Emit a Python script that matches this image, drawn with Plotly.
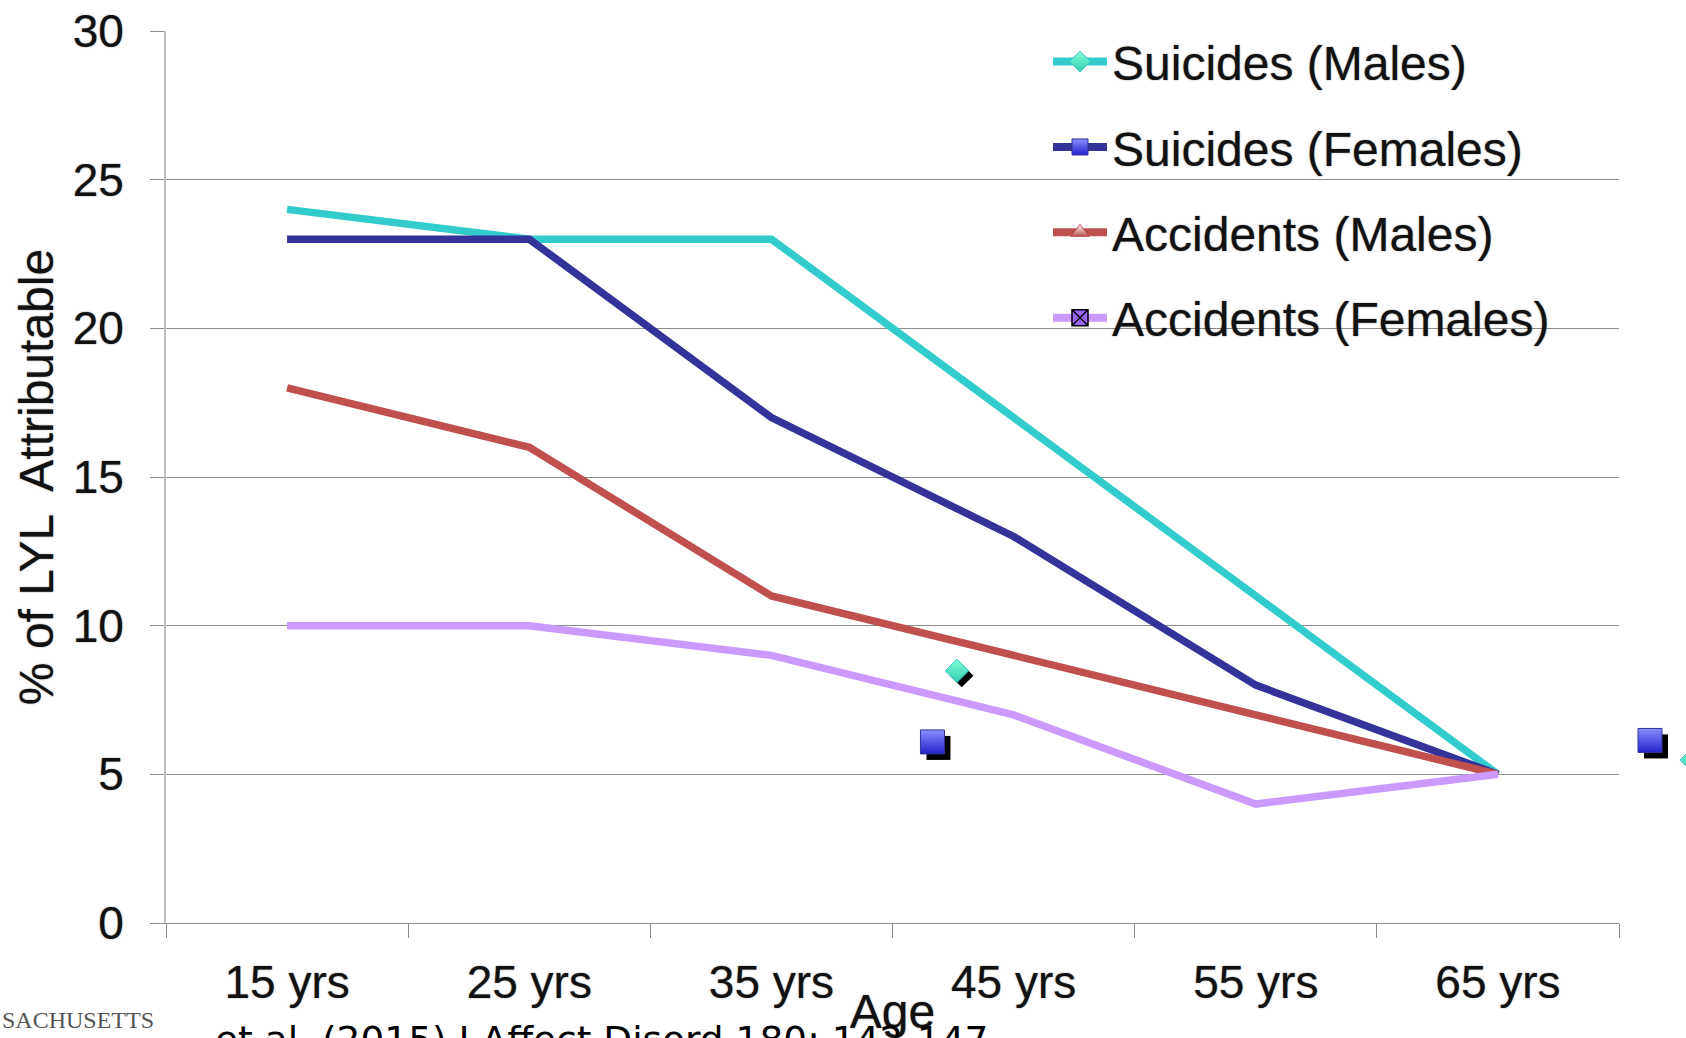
import plotly.graph_objects as go

# Ages and share of life-years lost (%) per cause
ages = ["15 yrs", "25 yrs", "35 yrs", "45 yrs", "55 yrs", "65 yrs"]
suicides_males = [24, 23, 23, 17, 11, 5]
suicides_females = [23, 23, 17, 13, 8, 5]
accidents_males = [18, 16, 11, 9, 7, 5]
accidents_females = [10, 10, 9, 7, 4, 5]

y_ticks = [0, 5, 10, 15, 20, 25, 30]

# loose marker glyphs sitting on the chart (category index, value)
loose_diamond_x = [2.766, 5.80]
loose_diamond_y = [8.48, 5.48]
loose_square_x = [2.665, 5.628]
loose_square_y = [6.09, 6.14]

W, H = 1686, 1038
M = dict(l=166, r=0, t=31, b=115)
PLOT_RIGHT = 1619                      # right edge of the category axis, px
PW = W - M["l"] - M["r"]               # paper width in px
PH = H - M["t"] - M["b"]               # paper height in px
XDOM = (PLOT_RIGHT - M["l"]) / PW      # share of paper used by the main x axis

FONT = "Liberation Sans, Arial, sans-serif"
HALO = "0px 0px 1.5px rgba(0,0,0,0.55)"

series = [
    ("Suicides (Males)", suicides_males, "#33CCCC",
     dict(symbol="diamond", size=16, color="#7FFFD4",
          gradient=dict(type="vertical", color="#33CCB0"),
          line=dict(color="#33CCCC", width=1))),
    ("Suicides (Females)", suicides_females, "#333399",
     dict(symbol="square", size=16, color="#8C8CFF",
          gradient=dict(type="vertical", color="#2222CC"),
          line=dict(color="#333399", width=1))),
    ("Accidents (Males)", accidents_males, "#C0504D",
     dict(symbol="triangle-up", size=16, color="#FFFFFF",
          gradient=dict(type="vertical", color="#C0504D"),
          line=dict(color="#C0504D", width=1))),
    ("Accidents (Females)", accidents_females, "#CC99FF",
     dict(symbol="square-x", size=16, color="#9966FF",
          line=dict(color="#000000", width=1.5))),
]

fig = go.Figure()

for name, vals, col, mk in series:
    # plotted line
    fig.add_trace(go.Scatter(
        x=ages, y=vals, mode="lines", name=name, showlegend=False,
        line=dict(color=col, width=7.5), legendgroup=name,
    ))
for name, vals, col, mk in series:
    # legend entry with its marker
    fig.add_trace(go.Scatter(
        x=[None], y=[None], mode="lines+markers", name=name,
        line=dict(color=col, width=8), marker=mk, legendgroup=name,
    ))

# loose markers on a separate, hidden subplot that spans to the page edge;
# its linear x axis is aligned with the category slots of the main axis
cat_px = (PLOT_RIGHT - M["l"]) / 6.0
x2_range = [-0.5, -0.5 + PW / cat_px]
sx, sy = 6 / cat_px, 6 / (PH / 30.0)

loose_common = dict(xaxis="x2", yaxis="y2", mode="markers", showlegend=False,
                    hoverinfo="skip", cliponaxis=True)
fig.add_trace(go.Scatter(
    x=[v + sx for v in loose_square_x], y=[v - sy for v in loose_square_y],
    marker=dict(symbol="square", size=24, color="#000000"), **loose_common,
))
fig.add_trace(go.Scatter(
    x=loose_square_x, y=loose_square_y,
    marker=dict(symbol="square", size=24, color="#8C8CFF",
                gradient=dict(type="vertical", color="#2222CC"),
                line=dict(color="#333399", width=1)), **loose_common,
))
fig.add_trace(go.Scatter(
    x=[v + sx * 0.8 for v in loose_diamond_x], y=[v - sy * 0.8 for v in loose_diamond_y],
    marker=dict(symbol="diamond", size=18, color="#000000"), **loose_common,
))
fig.add_trace(go.Scatter(
    x=loose_diamond_x, y=loose_diamond_y,
    marker=dict(symbol="diamond", size=18, color="#7FFFD4",
                gradient=dict(type="vertical", color="#33CCB0"),
                line=dict(color="#33CCCC", width=1)), **loose_common,
))

fig.update_layout(
    width=W, height=H, margin=dict(M, pad=0, autoexpand=False),
    paper_bgcolor="white", plot_bgcolor="rgba(0,0,0,0)",
    font=dict(family=FONT, color="#111111"),
    showlegend=True,
    legend=dict(
        x=(1048 - M["l"]) / PW, xanchor="left",
        y=1.008, yanchor="top", yref="paper",
        bgcolor="rgba(0,0,0,0)", borderwidth=0,
        font=dict(size=48, family=FONT, color="#111111", shadow=HALO),
        itemwidth=54, tracegroupgap=20, traceorder="grouped",
    ),
    xaxis=dict(
        domain=[0, XDOM], automargin=False,
        type="category", categoryorder="array", categoryarray=ages,
        range=[-0.5, 5.5], tickson="boundaries",
        ticks="outside", ticklen=14, tickcolor="#8C8C8C", tickwidth=1,
        showline=True, linecolor="#8C8C8C", linewidth=1,
        showgrid=False, zeroline=False,
        tickfont=dict(size=46, family=FONT, color="#111111", shadow=HALO),
        ticklabelstandoff=19,
        title=dict(text="Age", standoff=0,
                   font=dict(size=48, family=FONT, color="#111111", shadow=HALO)),
    ),
    xaxis2=dict(
        domain=[0, 1], anchor="y2", range=x2_range,
        visible=False, showgrid=False, zeroline=False, automargin=False,
    ),
    yaxis=dict(
        anchor="x", automargin=False,
        range=[0, 30], tickvals=y_ticks, ticktext=[str(v) for v in y_ticks],
        ticks="outside", ticklen=14, tickcolor="#8C8C8C", tickwidth=1,
        showline=True, linecolor="#BDBDBD", linewidth=2,
        showgrid=True, gridcolor="#8C8C8C", gridwidth=1, zeroline=False,
        tickfont=dict(size=46, family=FONT, color="#111111", shadow=HALO),
        ticklabelstandoff=17,
        title=dict(text="% of LYL  Attributable", standoff=4,
                   font=dict(size=48, family=FONT, color="#111111", shadow=HALO)),
    ),
    yaxis2=dict(
        domain=[0, 1], anchor="x2", range=[0, 30],
        visible=False, showgrid=False, zeroline=False, automargin=False,
    ),
    annotations=[
        dict(text="SACHUSETTS", xref="paper", yref="paper",
             x=-M["l"] / PW, xanchor="left",
             y=-(1005 - (H - M["b"])) / PH, yanchor="top",
             showarrow=False,
             font=dict(family="Liberation Serif, Times New Roman, serif", size=24, color="#555555")),
        dict(text="et al. (2015) J Affect Disord 180: 142-147", xref="paper", yref="paper",
             x=(213 - M["l"]) / PW, xanchor="left",
             y=-(1016 - (H - M["b"])) / PH, yanchor="top",
             showarrow=False,
             font=dict(family="DejaVu Sans, sans-serif", size=37.5, color="#000000")),
    ],
)

fig.write_html("out.html")
